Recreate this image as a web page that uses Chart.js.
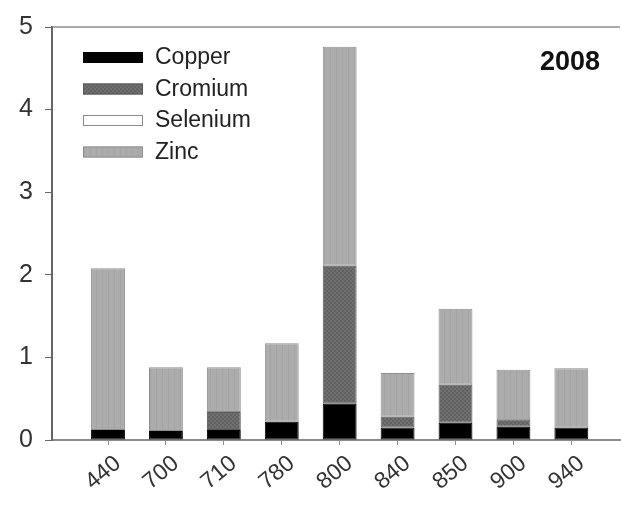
<!DOCTYPE html>
<html>
<head>
<meta charset="utf-8">
<script src="https://cdn.jsdelivr.net/npm/chart.js@4/dist/chart.umd.min.js"></script>
<style>
  body { margin: 0; background: #fff; }
  #wrap { width: 621px; height: 508px; }
</style>
</head>
<body>
<div id="wrap"><canvas id="metalsChart" width="621" height="508"></canvas></div>
<script>
// data
const sites = ["440", "700", "710", "780", "800", "840", "850", "900", "940"];
const copper = [0.12, 0.11, 0.12, 0.22, 0.44, 0.15, 0.21, 0.16, 0.15];
const cromium = [0, 0, 0.22, 0, 1.67, 0.13, 0.46, 0.09, 0];
const selenium = [0, 0, 0, 0, 0, 0, 0, 0, 0];
const zinc = [1.96, 0.77, 0.54, 0.95, 2.65, 0.53, 0.92, 0.60, 0.72];
const yTicks = [0, 1, 2, 3, 4, 5];
const yearLabel = "2008";

const FONT = "'Liberation Sans', Arial, Helvetica, sans-serif";

function makePattern(size, draw) {
    const c = document.createElement("canvas");
    c.width = size;
    c.height = size;
    draw(c.getContext("2d"));
    return c.getContext("2d").createPattern(c, "repeat");
}

const cromiumFill = makePattern(4, (g) => {
    g.fillStyle = "#707070";
    g.fillRect(0, 0, 4, 4);
    g.fillStyle = "#626262";
    g.fillRect(0, 0, 2, 2);
    g.fillRect(2, 2, 2, 2);
});

const zincFill = makePattern(6, (g) => {
    g.fillStyle = "#acacac";
    g.fillRect(0, 0, 6, 6);
    g.fillStyle = "#a4a4a4";
    g.fillRect(0, 0, 1, 6);
});

// linear x so the bars sit where they sit in the figure (left gap before first site)
const toPoints = (vals) => vals.map((v, i) => ({ x: i, y: v }));

const framePlugin = {
    id: "frame",
    afterDraw(chart) {
        const { ctx, chartArea } = chart;
        ctx.save();
        // top frame line
        ctx.strokeStyle = "#8c8c8c";
        ctx.lineWidth = 1.5;
        ctx.beginPath();
        ctx.moveTo(chartArea.left, chartArea.top);
        ctx.lineTo(chartArea.right, chartArea.top);
        ctx.stroke();

        // legend in the upper left
        chart.data.datasets.forEach((ds, i) => {
            const y = 52 + i * 31.5;
            ctx.fillStyle = ds.backgroundColor;
            ctx.fillRect(83, y, 60, 11);
            ctx.strokeStyle = ds.borderColor;
            ctx.lineWidth = 1;
            ctx.strokeRect(83.5, y + 0.5, 59, 10);
            ctx.fillStyle = "#222";
            ctx.font = "23px " + FONT;
            ctx.textAlign = "left";
            ctx.textBaseline = "middle";
            ctx.fillText(ds.label, 155, y + 6);
        });

        ctx.font = "bold 27px " + FONT;
        ctx.fillStyle = "#111";
        ctx.textAlign = "right";
        ctx.textBaseline = "alphabetic";
        ctx.fillText(yearLabel, 600, 70);
        ctx.restore();
    }
};

const ctx = document.getElementById("metalsChart").getContext("2d");

new Chart(ctx, {
    type: "bar",
    data: {
        datasets: [
            { label: "Copper", data: toPoints(copper), backgroundColor: "#000", borderColor: "#000" },
            { label: "Cromium", data: toPoints(cromium), backgroundColor: cromiumFill, borderColor: "#5a5a5a" },
            { label: "Selenium", data: toPoints(selenium), backgroundColor: "#fff", borderColor: "#8a8a8a" },
            { label: "Zinc", data: toPoints(zinc), backgroundColor: zincFill, borderColor: "#8e8e8e" }
        ]
    },
    options: {
        responsive: false,
        animation: false,
        layout: { padding: { top: 27, right: 1, left: 0, bottom: 0 } },
        datasets: {
            bar: { borderWidth: 1, barPercentage: 0.585, categoryPercentage: 1, borderSkipped: false }
        },
        plugins: {
            legend: { display: false },
            tooltip: { enabled: false }
        },
        scales: {
            x: {
                type: "linear",
                stacked: true,
                offset: false,
                min: -0.967,
                max: 8.84,
                afterBuildTicks: (scale) => {
                    scale.ticks = sites.map((s, i) => ({ value: i }));
                },
                afterFit: (scale) => { scale.height = 68; },
                border: { color: "#8c8c8c", width: 2 },
                grid: { offset: false, drawOnChartArea: false, tickLength: 5, tickColor: "#8c8c8c" },
                ticks: {
                    autoSkip: false,
                    minRotation: 40,
                    maxRotation: 40,
                    padding: 5,
                    labelOffset: 10,
                    color: "#333",
                    font: { family: FONT, size: 23 },
                    callback: (v) => sites[Math.round(v)]
                }
            },
            y: {
                stacked: true,
                min: 0,
                max: 5,
                afterBuildTicks: (scale) => {
                    scale.ticks = yTicks.map((v) => ({ value: v }));
                },
                afterFit: (scale) => { scale.width = 52; },
                border: { color: "#666", width: 2 },
                grid: { drawOnChartArea: false, tickLength: 7, tickColor: "#666" },
                ticks: {
                    padding: 12,
                    color: "#333",
                    font: { family: FONT, size: 25 }
                }
            }
        }
    },
    plugins: [framePlugin]
});
</script>
</body>
</html>
